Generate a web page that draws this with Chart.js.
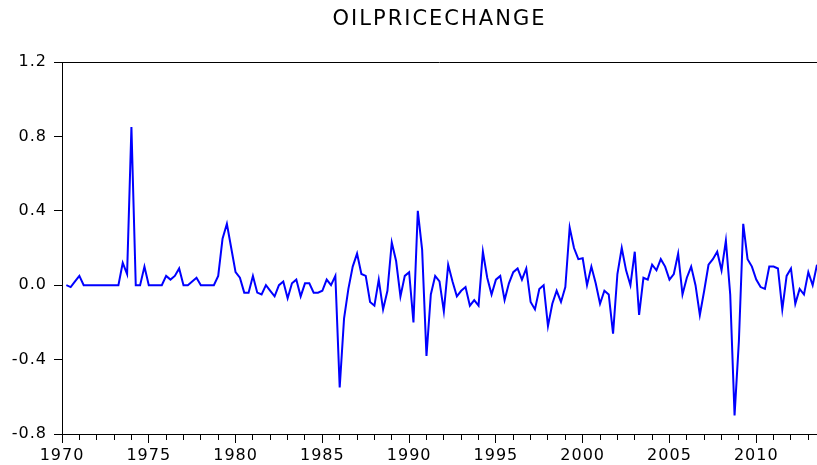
<!DOCTYPE html>
<html><head><meta charset="utf-8">
<script src="https://cdn.jsdelivr.net/npm/chart.js@4.4.0/dist/chart.umd.min.js"></script>
<style>html,body{margin:0;padding:0;background:#fff;overflow:hidden}canvas{display:block}</style>
</head><body>
<canvas id="c" width="817" height="465"></canvas>
<script>
const chartTitle = 'OILPRICECHANGE';
const firstYear = 1970;
const firstQuarter = 2;
// quarterly values, 1970Q2 .. 2013Q3
const oilPriceChange = [
  0.00, -0.01, 0.02,
  0.05, 0.00, 0.00, 0.00,
  0.00, 0.00, 0.00, 0.00,
  0.00, 0.00, 0.12, 0.06,
  0.85, 0.00, 0.00, 0.10,
  0.00, 0.00, 0.00, 0.00,
  0.05, 0.03, 0.05, 0.09,
  0.00, 0.00, 0.02, 0.04,
  0.00, 0.00, 0.00, 0.00,
  0.05, 0.25, 0.33, 0.20,
  0.07, 0.04, -0.04, -0.04,
  0.05, -0.04, -0.05, 0.00,
  -0.03, -0.06, 0.00, 0.02,
  -0.07, 0.01, 0.03, -0.06,
  0.01, 0.01, -0.04, -0.04,
  -0.03, 0.03, 0.00, 0.05,
  -0.55, -0.18, -0.02, 0.10,
  0.17, 0.06, 0.05, -0.09,
  -0.11, 0.03, -0.13, -0.03,
  0.23, 0.13, -0.06, 0.05,
  0.07, -0.20, 0.40, 0.19,
  -0.38, -0.05, 0.05, 0.02,
  -0.14, 0.11, 0.02, -0.06,
  -0.03, -0.01, -0.11, -0.08,
  -0.11, 0.18, 0.04, -0.05,
  0.03, 0.05, -0.08, 0.01,
  0.07, 0.09, 0.03, 0.09,
  -0.09, -0.13, -0.02, 0.00,
  -0.22, -0.10, -0.03, -0.09,
  -0.01, 0.31, 0.20, 0.14,
  0.145, 0.00, 0.10, 0.01,
  -0.10, -0.03, -0.05, -0.26,
  0.06, 0.20, 0.08, 0.00,
  0.18, -0.16, 0.04, 0.03,
  0.11, 0.08, 0.14, 0.10,
  0.03, 0.06, 0.17, -0.05,
  0.04, 0.10, 0.00, -0.16,
  -0.03, 0.11, 0.14, 0.18,
  0.08, 0.24, -0.05, -0.70,
  -0.30, 0.33, 0.14, 0.10,
  0.03, -0.01, -0.02, 0.10,
  0.10, 0.09, -0.13, 0.05,
  0.09, -0.10, -0.02, -0.05,
  0.07, 0.00, 0.11
];
const yTickValues = [-0.8, -0.4, 0.0, 0.4, 0.8, 1.2];
const xLabelYears = [1970, 1975, 1980, 1985, 1990, 1995, 2000, 2005, 2010];
const xMinorYears = [1970,1971,1972,1973,1974,1975,1976,1977,1978,1979,1980,1981,1982,1983,1984,1985,1986,1987,1988,1989,1990,1991,1992,1993,1994,1995,1996,1997,1998,1999,2000,2001,2002,2003,2004,2005,2006,2007,2008,2009,2010,2011,2012,2013];
const xMin = 1970, xMax = 2013.5;

const periods = oilPriceChange.map((_, i) => {
  const q = firstQuarter - 1 + i;
  return { year: firstYear + Math.floor(q / 4), quarter: (q % 4) + 1 };
});
const points = periods.map((p, i) => ({ x: p.year + (p.quarter - 1) / 4, y: oilPriceChange[i] }));

const FONT = '"DejaVu Sans", Verdana, sans-serif';
const TICK_SPACING = '1px';
const TITLE_SPACING = '2px';
const canvas = document.getElementById('c');
const ctx = canvas.getContext('2d');

function setSpacing(chart) { try { chart.ctx.letterSpacing = TICK_SPACING; } catch (e) {} }

const wideText = {
  id: 'wideText',
  beforeUpdate: setSpacing,
  beforeLayout: setSpacing,
  beforeDraw(chart) {
    setSpacing(chart);
    const tb = chart.titleBlock;
    if (tb && !tb._spaced) {
      const orig = tb.draw.bind(tb);
      tb.draw = function (area) {
        const c = chart.ctx;
        const prev = c.letterSpacing;
        try { c.letterSpacing = TITLE_SPACING; } catch (e) {}
        orig(area);
        try { c.letterSpacing = prev; } catch (e) {}
      };
      tb._spaced = true;
    }
  }
};

const topFrame = {
  id: 'topFrame',
  afterDraw(chart) {
    const a = chart.chartArea, c = chart.ctx;
    c.save();
    c.strokeStyle = '#000';
    c.lineWidth = 1;
    c.beginPath();
    c.moveTo(a.left, Math.round(a.top) + 0.5);
    c.lineTo(a.right, Math.round(a.top) + 0.5);
    c.stroke();
    c.restore();
  }
};

new Chart(ctx, {
  type: 'line',
  data: {
    datasets: [{
      label: chartTitle,
      data: points,
      borderColor: '#0000FF',
      borderWidth: 2,
      pointRadius: 0,
      tension: 0,
      fill: false
    }]
  },
  options: {
    responsive: false,
    animation: false,
    devicePixelRatio: 1,
    layout: { padding: 0 },
    plugins: {
      legend: { display: false },
      tooltip: { enabled: false },
      title: {
        display: true,
        text: chartTitle,
        fullSize: false,
        color: '#000',
        font: { family: FONT, size: 21, weight: 'normal' },
        padding: { top: 7, bottom: 29.8 }
      }
    },
    scales: {
      x2: {
        type: 'linear',
        position: 'bottom',
        weight: 0,
        min: xMin, max: xMax,
        afterBuildTicks: s => { s.ticks = xMinorYears.map(v => ({ value: v })); },
        afterFit: s => { s.height = 0; },
        ticks: { display: false },
        grid: { drawOnChartArea: false, drawTicks: true, tickLength: 6, color: '#000', lineWidth: 1 },
        border: { display: false }
      },
      x: {
        type: 'linear',
        position: 'bottom',
        weight: 1,
        min: xMin, max: xMax,
        afterBuildTicks: s => { s.ticks = xLabelYears.map(v => ({ value: v })); },
        afterFit: s => { s.height = 31; },
        ticks: {
          autoSkip: false, maxRotation: 0, minRotation: 0, padding: 3,
          color: '#000', font: { family: FONT, size: 16 },
          callback: v => String(v)
        },
        grid: { drawOnChartArea: false, drawTicks: true, tickLength: 9, color: '#000', lineWidth: 1 },
        border: { display: true, color: '#000', width: 1 }
      },
      y: {
        type: 'linear',
        position: 'left',
        min: -0.8, max: 1.2,
        afterBuildTicks: s => { s.ticks = yTickValues.map(v => ({ value: v })); },
        afterFit: s => { s.width = 62; },
        ticks: {
          padding: 7, color: '#000', font: { family: FONT, size: 16 },
          callback: v => (Math.abs(v) < 1e-9 ? 0 : v).toFixed(1)
        },
        grid: { drawOnChartArea: false, drawTicks: true, tickLength: 8, color: '#000', lineWidth: 1 },
        border: { display: true, color: '#000', width: 1 }
      }
    }
  },
  plugins: [wideText, topFrame]
});
</script>
</body></html>
